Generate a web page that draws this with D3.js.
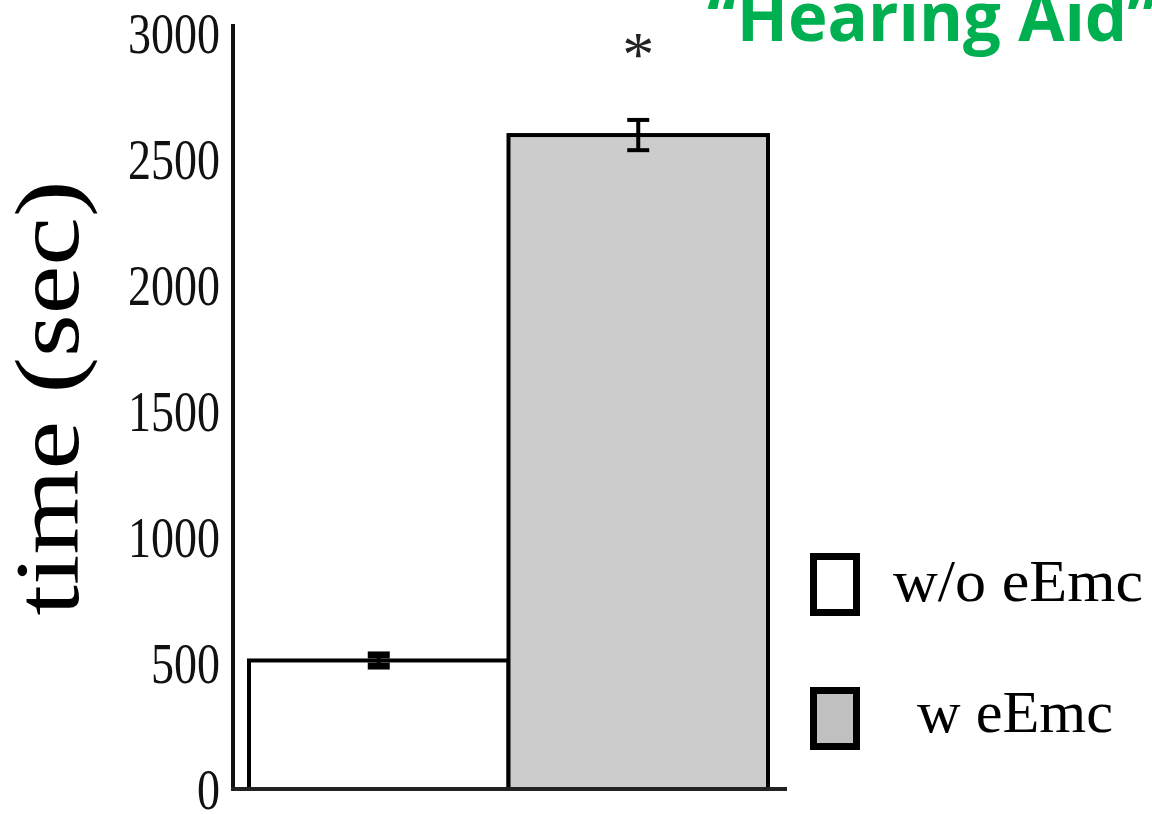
<!DOCTYPE html>
<html><head><meta charset="utf-8">
<script src="https://cdn.jsdelivr.net/npm/d3@7"></script>
<style>body{margin:0;background:#fff}svg{display:block}</style>
</head><body>
<svg id="c" width="1152" height="814"></svg>
<script>
const categories = ["w/o eEmc", "w eEmc"];
const values = [510, 2595];
const errors = [22, 60];
const fills = ["#ffffff", "#cccccc"];
const legendFills = ["#ffffff", "#c0c0c0"];
const yTicks = [0, 500, 1000, 1500, 2000, 2500, 3000];
const significance = ["", "*"];
const titleText = "\u201CHearing Aid\u201D";
const yLabel = "time (sec)";

const svg = d3.select("#c");
const serif = "'Liberation Serif','Times New Roman',serif";

const y = d3.scaleLinear().domain([0, 3000]).range([789, 33]);
const x = d3.scaleBand().domain(categories).range([249, 768]).padding(0);

// y axis ticks
const yAxis = d3.axisLeft(y).tickValues(yTicks).tickFormat(d3.format("d")).tickSize(0).tickPadding(13);
const gy = svg.append("g").attr("transform", "translate(233,0)").call(yAxis);
gy.select(".domain").remove();
gy.selectAll("text")
  .attr("font-family", serif).attr("font-size", 58).attr("fill", "#111")
  .attr("dy", "0.34em")
  .attr("textLength", d => String(d).length * 23)
  .attr("lengthAdjust", "spacingAndGlyphs");

// bars
svg.selectAll("rect.bar").data(categories).join("rect")
  .attr("class", "bar")
  .attr("x", d => x(d))
  .attr("width", x.bandwidth())
  .attr("y", (d, i) => y(values[i]))
  .attr("height", (d, i) => y(0) - y(values[i]))
  .attr("fill", (d, i) => fills[i])
  .attr("stroke", "#000").attr("stroke-width", 4);

// error bars
const eb = svg.selectAll("g.err").data(categories).join("g").attr("class", "err");
eb.append("line")
  .attr("x1", d => x(d) + x.bandwidth() / 2).attr("x2", d => x(d) + x.bandwidth() / 2)
  .attr("y1", (d, i) => y(values[i] + errors[i])).attr("y2", (d, i) => y(values[i] - errors[i]))
  .attr("stroke", "#000").attr("stroke-width", 4);
[1, -1].forEach(s => {
  eb.append("line")
    .attr("x1", d => x(d) + x.bandwidth() / 2 - 11).attr("x2", d => x(d) + x.bandwidth() / 2 + 11)
    .attr("y1", (d, i) => y(values[i] + s * errors[i])).attr("y2", (d, i) => y(values[i] + s * errors[i]))
    .attr("stroke", "#000").attr("stroke-width", (d, i) => i === 0 ? 7 : 4);
});

// significance
svg.selectAll("text.sig").data(categories).join("text")
  .attr("class", "sig")
  .attr("x", d => x(d) + x.bandwidth() / 2)
  .attr("y", 76)
  .attr("text-anchor", "middle")
  .attr("font-family", serif).attr("font-size", 64).attr("fill", "#222")
  .text((d, i) => significance[i]);

// axis lines
svg.append("line").attr("x1", 233).attr("x2", 233).attr("y1", 24).attr("y2", y(0) + 2)
  .attr("stroke", "#111").attr("stroke-width", 4);
svg.append("line").attr("x1", 231).attr("x2", 787).attr("y1", y(0)).attr("y2", y(0))
  .attr("stroke", "#222").attr("stroke-width", 4);

// y label
svg.append("text")
  .attr("transform", "translate(78,398) rotate(-90)")
  .attr("text-anchor", "middle")
  .attr("font-family", serif).attr("font-size", 90).attr("fill", "#000")
  .attr("textLength", 435).attr("lengthAdjust", "spacingAndGlyphs")
  .text(yLabel);

// legend
const legY = [556.5, 690.5];
const legTextW = [250, 196];
const legTextX = [893, 917];
const legBase = [601, 732];
const lg = svg.selectAll("g.leg").data(categories).join("g").attr("class", "leg");
lg.append("rect")
  .attr("x", 813.5).attr("y", (d, i) => legY[i])
  .attr("width", 43).attr("height", 56)
  .attr("fill", (d, i) => legendFills[i])
  .attr("stroke", "#000").attr("stroke-width", 7);
lg.append("text")
  .attr("x", (d, i) => legTextX[i]).attr("y", (d, i) => legBase[i])
  .attr("font-family", serif).attr("font-size", 59).attr("fill", "#000")
  .attr("textLength", (d, i) => legTextW[i]).attr("lengthAdjust", "spacingAndGlyphs")
  .text(d => d);

// title
svg.append("text")
  .attr("x", 707).attr("y", 41)
  .attr("font-family", "'Open Sans','Noto Sans',sans-serif").attr("font-weight", "bold")
  .attr("font-size", 68).attr("fill", "#00b050")
  .attr("textLength", 450).attr("lengthAdjust", "spacingAndGlyphs")
  .text(titleText);
</script>
</body></html>
